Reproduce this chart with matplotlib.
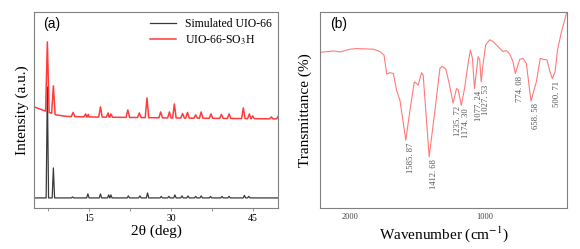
import numpy as np
import matplotlib
matplotlib.use("Agg")
import matplotlib.pyplot as plt

plt.rcParams['font.family'] = ['Liberation Serif', 'DejaVu Serif']
plt.rcParams['mathtext.fontset'] = 'stix'

##############################
# Data (a) : XRD

# simulated UIO-66 : peak positions (deg) and peak tops (a.u.)
sim_pos = [7.4, 8.5, 12.0, 14.8, 17.1, 18.6, 19.0, 22.2, 24.3, 25.7, 28.2, 29.6,
           30.7, 32.0, 33.1, 34.5, 35.5, 37.2, 39.3, 40.6, 43.4, 44.2]
sim_top = [121, 40, 11, 14, 14, 13, 13, 12, 12, 15, 11.5, 11.5,
           13, 12, 12, 11.5, 12, 11.5, 11.5, 11.5, 12.5, 11.5]
sim_base_x = [5, 50]
sim_base_y = [10, 10]

# UIO-66-SO3H
so3h_pos = [7.4, 8.5, 12.1, 14.4, 14.9, 17.1, 18.5, 19.0, 22.1, 24.2, 25.6, 28.1,
            29.7, 30.6, 32.1, 33.0, 34.5, 35.5, 37.3, 39.2, 40.6, 43.2, 44.3, 44.9,
            48.3, 49.6]
so3h_top = [166, 122, 95.5, 94, 93.5, 101, 95, 94, 98, 95, 110, 96,
            96, 104, 94.5, 95.5, 93, 96, 94, 93.5, 94, 100, 94, 92,
            91, 92]
so3h_base_x = [5, 6.5, 9, 11, 15, 30, 50]
so3h_base_y = [101, 98, 93, 91.5, 91, 90, 89]

##############################
# Data (b) : FTIR

wn = [2220, 2121, 2072, 1998, 1949, 1826, 1777, 1747, 1727, 1703, 1678, 1654,
      1629, 1585.87, 1555, 1523, 1506, 1494, 1469, 1457, 1412.68, 1370, 1333,
      1316, 1289, 1264, 1235.72, 1210, 1198, 1174.30, 1149, 1124, 1107, 1092,
      1077.24, 1050, 1038, 1027.53, 1013, 994, 964, 939, 903, 866, 841, 816,
      792, 774.08, 742, 718, 693, 658.58, 619, 590, 565, 540, 520, 500.71,
      480, 462, 435, 395]
trans = [79.4, 80.1, 79.6, 81.0, 81.3, 81.0, 79.8, 78.0, 68.3, 69.0, 68.6, 60.0,
         54.9, 34.6, 49.7, 64.3, 63.5, 62.6, 69.0, 67.8, 26.1, 49.7, 71.2,
         72.4, 70.7, 63.5, 53.5, 60.9, 60.4, 52.3, 61.7, 73.8, 80.6, 76.3,
         60.9, 77.2, 75.5, 64.3, 73.8, 83.2, 85.8, 84.9, 82.3, 79.8, 80.3, 78.6,
         74.6, 68.6, 75.8, 76.3, 73.8, 54.5, 64.3, 76.3, 75.8, 75.5, 70.0, 66.0,
         69.5, 80.6, 89.2, 99.5]

peak_labels = ['1585. 87', '1412. 68', '1235. 72', '1174. 30', '1077. 24',
               '1027. 53', '774. 08', '658. 58', '500. 71']
peak_wn = [1585.87, 1412.68, 1235.72, 1174.30, 1077.24, 1027.53, 774.08, 658.58, 500.71]


def profil(pos, top, bx, by, w):
    """ ligne de base + pics fins """
    xs = list(bx)
    ys = list(by)
    for p, t in zip(pos, top):
        for x, y in ((p - w, None), (p, t), (p + w, None)):
            xs.append(x)
            ys.append(np.interp(x, bx, by) if y is None else y)
    order = np.argsort(xs, kind='stable')
    return np.array(xs)[order], np.array(ys)[order]


fig = plt.figure(figsize=(5.8, 2.49), dpi=100)
frame_col = '#808080'

##############################
# (a)
ax1 = fig.add_axes([0.059, 0.165, 0.420, 0.787])
x, y = profil(sim_pos, sim_top, sim_base_x, sim_base_y, 0.22)
ax1.plot(x, y, color='#3a3a3a', lw=0.9, label='Simulated UIO-66')
x, y = profil(so3h_pos, so3h_top, so3h_base_x, so3h_base_y, 0.32)
ax1.plot(x, y, color='#ff3b3b', lw=1.1, label='UIO-66-SO$_3$H')
ax1.set_xlim(5, 49.5)
ax1.set_ylim(0, 196)
ax1.set_xticks([15, 30, 45])
ax1.set_xticks([7.5, 22.5, 37.5], minor=True)
ax1.set_yticks([])
ax1.tick_params(axis='x', which='both', direction='out', length=2.5, width=0.6,
                colors=frame_col, labelcolor='black', labelsize=7, pad=2)
for s in ax1.spines.values():
    s.set_color(frame_col)
    s.set_linewidth(0.8)
ax1.set_xlabel('2θ (deg)', fontsize=11, labelpad=1)
ax1.set_ylabel('Intensity (a.u.)', fontsize=11, labelpad=4)
ax1.text(0.035, 0.975, '(a)', transform=ax1.transAxes, fontsize=10,
         family='Liberation Sans', va='top')
ax1.legend(loc='upper right', frameon=False, fontsize=8.5, handlelength=2.2,
           borderaxespad=0.1, labelspacing=0.3, handletextpad=0.8)

##############################
# (b)
ax2 = fig.add_axes([0.552, 0.165, 0.426, 0.787])
ax2.plot(wn, trans, color='#ff7a7a', lw=0.8)
ax2.set_xlim(2220, 390)
ax2.set_ylim(0, 100)
ax2.set_xticks([2000, 1000])
ax2.set_yticks([])
ax2.tick_params(axis='x', length=0, labelsize=6, labelcolor='#444444', pad=4)
for s in ax2.spines.values():
    s.set_color(frame_col)
    s.set_linewidth(0.8)
ax2.set_xlabel('Wavenumber (cm$^{-1}$)', fontsize=11, labelpad=2)
ax2.set_ylabel('Transmittance (%)', fontsize=11, labelpad=6)
ax2.text(0.04, 0.975, '(b)', transform=ax2.transAxes, fontsize=10,
         family='Liberation Sans', va='top')

for lab, w in zip(peak_labels, peak_wn):
    t = np.interp(-w, -np.array(wn), trans)
    ax2.text(w - 35, t - 1.2, lab, rotation=90, ha='center', va='top',
             fontsize=6.2, color='#555555')

fig.savefig('out.png', dpi=100)
